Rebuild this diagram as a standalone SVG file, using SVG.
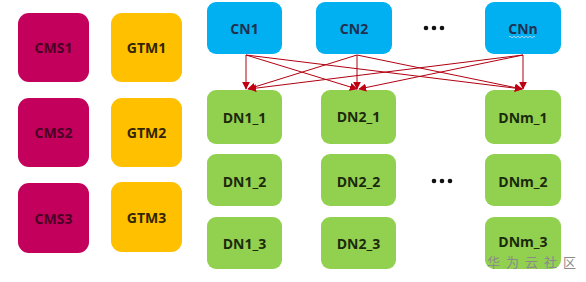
<svg xmlns="http://www.w3.org/2000/svg" width="586" height="282" viewBox="0 0 586 282">
<defs>
<style>
.cms{fill:#C3005C}
.gtm{fill:#FFC000}
.cn{fill:#00B0F0}
.dn{fill:#92D050}
text{font-family:"Open Sans","Noto Sans","Liberation Sans",sans-serif;font-weight:bold;font-size:14px;text-anchor:middle;dominant-baseline:central}
.tcms{fill:#4A0024}
.tgtm{fill:#332500}
.tcn{fill:#1F3050}
.tdn{fill:#1C2A0C}
.conn{stroke:#B00010;stroke-width:1;fill:none;marker-end:url(#ah)}
.wm{font-family:"Noto Sans CJK SC",sans-serif;font-weight:normal;font-size:13px;fill:#8a8a8a;text-anchor:start}
.dot{fill:#111}
</style>
<marker id="ah" viewBox="0 0 10 10" refX="9" refY="5" markerWidth="8" markerHeight="8" orient="auto" markerUnits="userSpaceOnUse">
<path d="M0,0 L10,5 L0,10 z" fill="#C00010"/>
</marker>
</defs>
<rect width="586" height="282" fill="#ffffff"/>
<g id="CMS1"><rect class="cms" x="18" y="13" width="71" height="69" rx="11"/><text class="tcms" x="53.5" y="47.5">CMS1</text></g>
<g id="CMS2"><rect class="cms" x="18" y="98" width="71" height="69" rx="11"/><text class="tcms" x="53.5" y="132.5">CMS2</text></g>
<g id="CMS3"><rect class="cms" x="18" y="183" width="71" height="70" rx="11"/><text class="tcms" x="53.5" y="218">CMS3</text></g>
<g id="GTM1"><rect class="gtm" x="111" y="13" width="71" height="69" rx="11"/><text class="tgtm" x="146.5" y="47.5">GTM1</text></g>
<g id="GTM2"><rect class="gtm" x="111" y="98" width="71" height="69" rx="11"/><text class="tgtm" x="146.5" y="132.5">GTM2</text></g>
<g id="GTM3"><rect class="gtm" x="111" y="182" width="71" height="70" rx="11"/><text class="tgtm" x="146.5" y="217">GTM3</text></g>
<g id="CN1"><rect class="cn" x="207" y="2" width="75" height="52" rx="9"/><text class="tcn" x="244.5" y="28">CN1</text></g>
<g id="CN2"><rect class="cn" x="316" y="2" width="76" height="52" rx="9"/><text class="tcn" x="354" y="28">CN2</text></g>
<g id="CNn"><rect class="cn" x="485" y="2" width="76" height="52" rx="9"/><text class="tcn" x="523" y="28">CNn</text>
<path d="M509,37 q1,-1.5 2,0 t2,0 t2,0 t2,0 t2,0 t2,0 t2,0 t2,0 t2,0 t2,0 t2,0 t2,0 t2,0" fill="none" stroke="#d8d8f0" stroke-width="0.8"/></g>
<g id="dots1"><circle class="dot" cx="426" cy="28" r="2.3"/><circle class="dot" cx="434" cy="28" r="2.3"/><circle class="dot" cx="442" cy="28" r="2.3"/></g>
<g id="DN1_1"><rect class="dn" x="207" y="90" width="75" height="54" rx="9"/><text class="tdn" x="244.5" y="117">DN1_1</text></g>
<g id="DN2_1"><rect class="dn" x="321" y="90" width="75" height="54" rx="9"/><text class="tdn" x="358.5" y="116">DN2_1</text></g>
<g id="DNm_1"><rect class="dn" x="485" y="90" width="76" height="54" rx="9"/><text class="tdn" x="523" y="117">DNm_1</text></g>
<g id="DN1_2"><rect class="dn" x="207" y="154" width="75" height="52" rx="9"/><text class="tdn" x="244.5" y="181">DN1_2</text></g>
<g id="DN2_2"><rect class="dn" x="321" y="154" width="75" height="52" rx="9"/><text class="tdn" x="358.5" y="181">DN2_2</text></g>
<g id="DNm_2"><rect class="dn" x="485" y="154" width="76" height="52" rx="9"/><text class="tdn" x="523" y="181">DNm_2</text></g>
<g id="DN1_3"><rect class="dn" x="207" y="217" width="75" height="52" rx="9"/><text class="tdn" x="244.5" y="243">DN1_3</text></g>
<g id="DN2_3"><rect class="dn" x="321" y="217" width="75" height="52" rx="9"/><text class="tdn" x="358.5" y="243">DN2_3</text></g>
<g id="DNm_3"><rect class="dn" x="485" y="217" width="76" height="52" rx="9"/><text class="tdn" x="523" y="241">DNm_3</text></g>
<g id="dots2"><circle class="dot" cx="434" cy="181" r="2.3"/><circle class="dot" cx="442" cy="181" r="2.3"/><circle class="dot" cx="450" cy="181" r="2.3"/></g>
<g id="connectors">
<line class="conn" x1="246" y1="55" x2="246" y2="89"/>
<line class="conn" x1="246" y1="55" x2="357" y2="89"/>
<line class="conn" x1="246" y1="55" x2="522" y2="89"/>
<line class="conn" x1="357" y1="55" x2="248" y2="89"/>
<line class="conn" x1="357" y1="55" x2="357" y2="89"/>
<line class="conn" x1="357" y1="55" x2="522" y2="89"/>
<line class="conn" x1="523" y1="55" x2="249" y2="89"/>
<line class="conn" x1="523" y1="55" x2="359" y2="89"/>
<line class="conn" x1="523" y1="55" x2="523" y2="89"/>
</g>
<g id="watermark" class="wm">
<text class="wm" x="487" y="261">华</text>
<text class="wm" x="506" y="261">为</text>
<text class="wm" x="525" y="261">云</text>
<text class="wm" x="544" y="261">社</text>
<text class="wm" x="563" y="261">区</text>
</g>
</svg>
